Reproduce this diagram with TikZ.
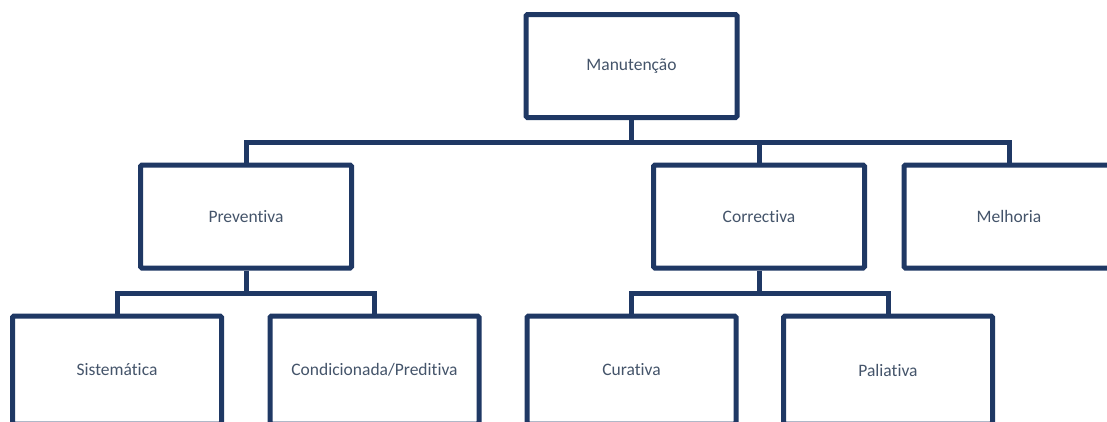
\documentclass[tikz,border=0pt]{standalone}
\usepackage{fontspec}
\setmainfont{Carlito}[Ligatures=NoCommon]
\definecolor{boxline}{RGB}{31,56,100}
\definecolor{boxtext}{RGB}{68,84,106}
\begin{document}
\begin{tikzpicture}[x=1pt,y=-1pt,
  orgbox/.style={draw=boxline, line width=5pt, fill=white, rectangle,
    rounded corners=1.5pt,
    minimum width=211pt, minimum height=103pt, inner sep=0pt,
    text=boxtext, font=\fontsize{17.5}{20}\selectfont},
  lowbox/.style={orgbox, minimum height=108pt},
  link/.style={draw=boxline, line width=5pt}]
\useasboundingbox (0,0) rectangle (1107,421);
\clip (0,0) rectangle (1107,421);
\fill[white] (0,0) rectangle (1107,421);

% top level
\node[orgbox] (man) at (631.5,66) {Manutenção};

% second level
\node[orgbox] (prev) at (246,216.5) {Preventiva};
\node[orgbox] (corr) at (759,216.5) {Correctiva};
\node[orgbox, minimum width=210pt] (melh) at (1009,216.5) {Melhoria};

% third level (runs past the lower edge)
\node[lowbox, minimum width=209pt] (sist) at (117,370) {Sistemática};
\node[lowbox, minimum width=209pt] (cond) at (374.5,370) {Condicionada/Preditiva};
\node[lowbox, minimum width=209pt] (cura) at (631.5,370) {Curativa};
\node[lowbox, minimum width=209pt] (pali) at (888,370) {Paliativa};

% bus lines
\coordinate (busA) at (631.5,142);
\coordinate (busB) at (246,293);
\coordinate (busC) at (759,293);

\draw[link] (man.south) -- (busA);
\draw[link] (prev.north) |- (busA) -| (melh.north);
\draw[link] (corr.north) -- (corr.north |- busA);

\draw[link] (prev.south) -- (busB);
\draw[link] (sist.north) |- (busB) -| (cond.north);

\draw[link] (corr.south) -- (busC);
\draw[link] (cura.north) |- (busC) -| (pali.north);
\end{tikzpicture}
\end{document}
